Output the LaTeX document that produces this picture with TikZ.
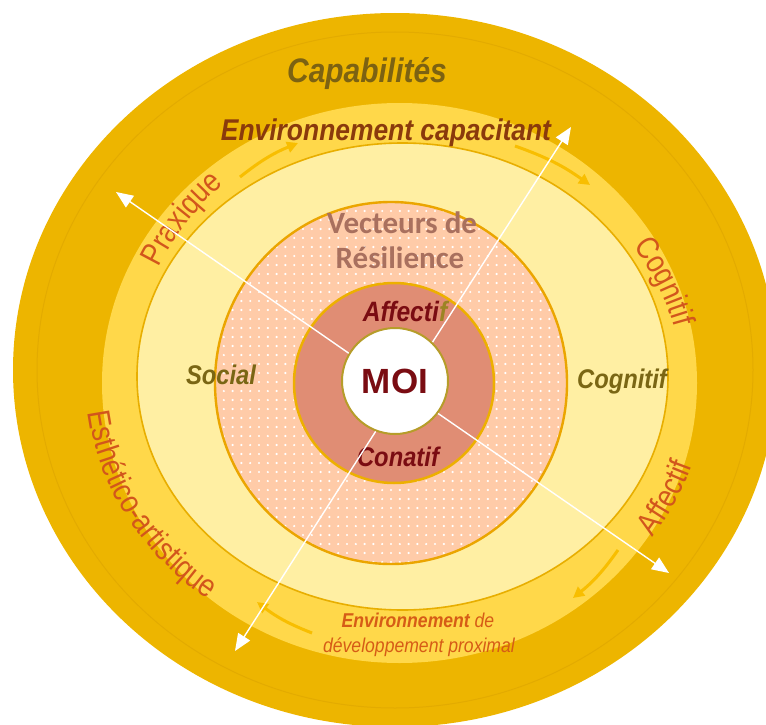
\documentclass[tikz,border=0pt]{standalone}
\usepackage{fontspec}
\setmainfont{Liberation Sans}
\newfontfamily\nar[FakeStretch=0.88]{Liberation Sans}
\newfontfamily\cnar[FakeStretch=0.84]{Liberation Sans}
\newfontfamily\carl{Carlito}
\usetikzlibrary{arrows.meta,decorations.text,calc}
\definecolor{outerc}{HTML}{EDB500}
\definecolor{outerl}{HTML}{E3AB00}
\definecolor{bandc}{HTML}{FFD84A}
\definecolor{bandl}{HTML}{E8AE00}
\definecolor{lighty}{HTML}{FFEFA3}
\definecolor{pinkc}{HTML}{FFCBA8}
\definecolor{pinkl}{HTML}{EBA500}
\definecolor{ringc}{HTML}{E08D74}
\definecolor{ringl}{HTML}{EDB000}
\definecolor{moil}{HTML}{B69D2A}
\definecolor{flowc}{HTML}{F8BE00}
\definecolor{capc}{HTML}{7C6212}
\definecolor{envc}{HTML}{8A3A0C}
\definecolor{vecc}{HTML}{A9705E}
\definecolor{redc}{HTML}{7A0C12}
\definecolor{olivec}{HTML}{7A6614}
\definecolor{fcol}{HTML}{9C8424}
\definecolor{curvc}{HTML}{D2561C}
\definecolor{edpc}{HTML}{D65C16}
\newcommand\curvfont{\cnar\fontsize{32}{34}\selectfont}
\begin{document}
\begin{tikzpicture}[x=1pt,y=-1pt,
  lbl/.style={inner sep=0pt, anchor=base},
  bi/.style={font=\nar\bfseries\itshape\fontsize{#1}{#1}\selectfont},
  flow/.style={draw=flowc, line width=3pt, -{Triangle[length=11pt,width=11pt]}},
  warrow/.style={draw=white, line width=1.4pt, -{Triangle[length=17pt,width=14pt]}},
  curv/.style={decorate, decoration={text along path, text align=center, text color=curvc, text={|\curvfont|#1}}}
]
\useasboundingbox (0,0) rectangle (766,725);
\clip (0,0) rectangle (766,725);
% rings
\fill[outerc] (395,370) ellipse[x radius=382pt, y radius=357pt];
\draw[outerl, line width=1pt] (395,370) ellipse[x radius=358pt, y radius=338pt];
\fill[bandc] (399.5,383) ellipse[x radius=297.5pt, y radius=280pt];
\draw[bandl, line width=1.6pt, fill=lighty] (402.5,376.5) ellipse[x radius=265.5pt, y radius=233.5pt];
\fill[pinkc] (391,383) ellipse[x radius=176pt, y radius=181pt];
\begin{scope}
  \clip (391,383) ellipse[x radius=176pt, y radius=181pt];
  \foreach \i in {0,...,40}{\foreach \j in {0,...,41}{
    \fill[white] (215+\i*8.8, 202+\j*9) circle[radius=1.2pt];}}
\end{scope}
\draw[pinkl, line width=2.4pt] (391,383) ellipse[x radius=176pt, y radius=181pt];
\draw[ringl, line width=2.5pt, fill=ringc] (394,383) circle[radius=100pt];
\node[circle, draw=moil, line width=2pt, fill=white, minimum size=106pt, inner sep=0pt,
      text=redc, font=\bfseries\fontsize{35}{35}\selectfont] (moi) at (395,381) {MOI};
% flow arrows in the band
\coordinate (f1s) at (240,177); \coordinate (f1e) at (298,143);
\coordinate (f2s) at (515,146); \coordinate (f2e) at (590,185);
\coordinate (f3s) at (618,550); \coordinate (f3e) at (573,598);
\coordinate (f4s) at (312,633); \coordinate (f4e) at (257,602);
\draw[flow] (f1s) to[bend left=8] (f1e);
\draw[flow] (f2s) to[bend left=8] (f2e);
\draw[flow] (f3s) to[bend left=8] (f3e);
\draw[flow] (f4s) to[bend left=8] (f4e);
% curved labels
\path[curv=Praxique] ({400+267*cos(197)},{380+261*sin(197)}) arc[start angle=197, end angle=237, x radius=267, y radius=261];
\path[curv=Cognitif] ({400+281*cos(-43)},{380+239.5*sin(-43)}) arc[start angle=-43, end angle=-3, x radius=281, y radius=239.5];
\path[curv=Affectif] ({400+307*cos(46)},{380+277*sin(46)}) arc[start angle=46, end angle=6, x radius=307, y radius=277];
\path[curv=Esthético-artistique] ({400+314*cos(184)},{380+277*sin(184)}) arc[start angle=184, end angle=118, x radius=314, y radius=277];
% labels
\node[lbl, bi=34, text=capc] (cap) at (367,82) {Capabilités};
\node[lbl, bi=30, text=envc] (envcap) at (386,140) {Environnement capacitant};
\node[lbl, text=vecc, font=\carl\bfseries\fontsize{31}{31}\selectfont] (vec1) at (402,233) {Vecteurs de};
\node[lbl, text=vecc, font=\carl\bfseries\fontsize{31}{31}\selectfont] (vec2) at (400,268) {Résilience};
\node[lbl, bi=28, text=redc] (aff) at (405,321) {Affecti\textcolor{fcol}{f}};
\node[lbl, bi=27, text=redc] (con) at (398,466) {Conatif};
\node[lbl, bi=27, text=olivec] (soc) at (221,384) {Social};
\node[lbl, bi=27, text=olivec] (cog) at (622,388) {Cognitif};
\node[lbl, text=edpc, font=\nar\itshape\fontsize{20}{20}\selectfont] (edp1) at (418,627) {{\bfseries Environnement} de};
\node[lbl, text=edpc, font=\nar\itshape\fontsize{20}{20}\selectfont] (edp2) at (419,652) {développement proximal};
% white arrows
\coordinate (t1) at (116,192);
\coordinate (t2) at (571,127);
\coordinate (t3) at (669,573);
\coordinate (t4) at (235,651);
\draw[warrow] (moi.149) -- (t1);
\draw[warrow] (moi.46) -- (t2);
\draw[warrow] (moi.-37) -- (t3);
\draw[warrow] (moi.249) -- (t4);
\end{tikzpicture}
\end{document}
